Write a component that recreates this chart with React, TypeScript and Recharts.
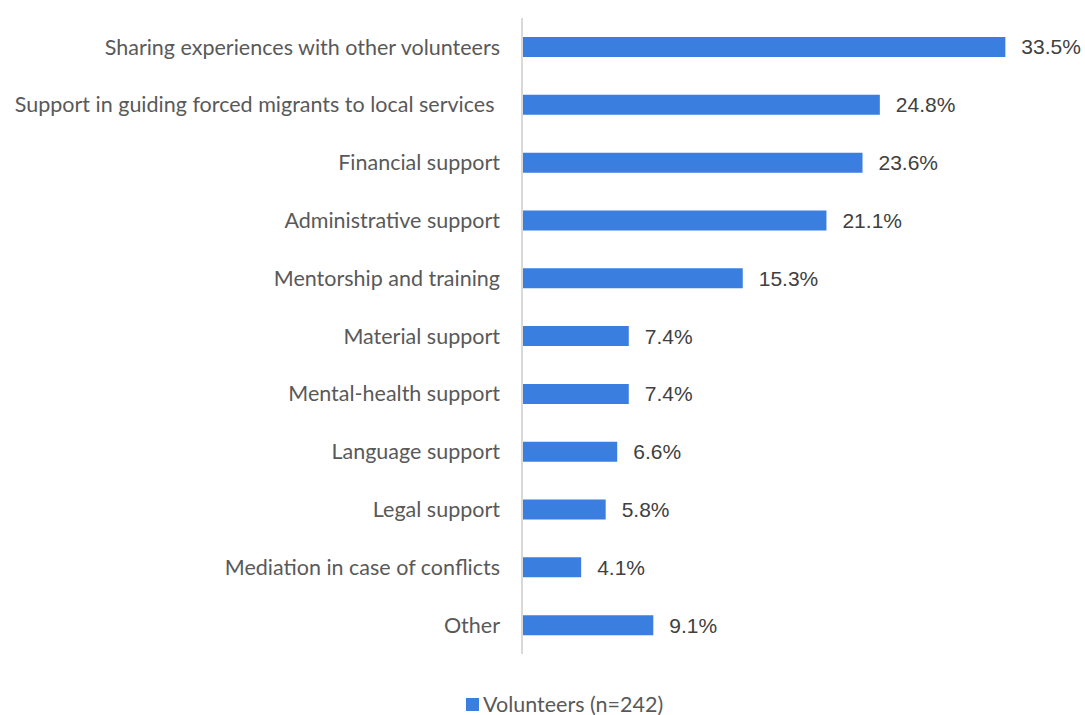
import { BarChart, Bar, XAxis, YAxis, LabelList } from 'recharts';

const categories = [
  'Sharing experiences with other volunteers',
  'Support in guiding forced migrants to local services\u00a0',
  'Financial support',
  'Administrative support',
  'Mentorship and training',
  'Material support',
  'Mental-health support',
  'Language support',
  'Legal support',
  'Mediation in case of conflicts',
  'Other',
];
const values = [33.5, 24.8, 23.6, 21.1, 15.3, 7.4, 7.4, 6.6, 5.8, 4.1, 9.1];
const seriesName = 'Volunteers (n=242)';

const data = categories.map((c, i) => ({ name: c, value: values[i] }));

const BLUE = '#3a7ee0';

export default function App() {
  return (
    <div style={{ position: 'absolute', left: 0, top: 0, width: 1085, height: 715, background: '#fff' }}>
      <BarChart
        width={1085}
        height={715}
        data={data}
        layout="vertical"
        margin={{ top: 18, right: 58, bottom: 61, left: 0 }}
        barCategoryGap={0}
      >
        <XAxis type="number" domain={[0, 35]} hide />
        <YAxis
          type="category"
          dataKey="name"
          width={522}
          axisLine={{ stroke: '#d9d9d9', strokeWidth: 2 }}
          tickLine={false}
          tickMargin={16}
          interval={0}
          tick={{ fill: '#595959', fontSize: 21.5, fontFamily: 'Lato, sans-serif' }}
        />
        <Bar dataKey="value" name={seriesName} fill={BLUE} barSize={20} isAnimationActive={false}>
          <LabelList
            dataKey="value"
            position="right"
            offset={16}
            formatter={(v: number) => `${v.toFixed(1)}%`}
            style={{ fill: '#404040', fontSize: 21, fontFamily: '"Liberation Sans", Arial, sans-serif' }}
          />
        </Bar>
      </BarChart>
      <div
        style={{
          position: 'absolute', left: 466, top: 691, display: 'flex', alignItems: 'center',
          fontFamily: 'Lato, sans-serif', fontSize: 21.5, color: '#595959', lineHeight: '26px',
        }}
      >
        <span style={{ display: 'inline-block', width: 13, height: 13, background: BLUE, marginRight: 4 }} />
        <span>{seriesName}</span>
      </div>
    </div>
  );
}
